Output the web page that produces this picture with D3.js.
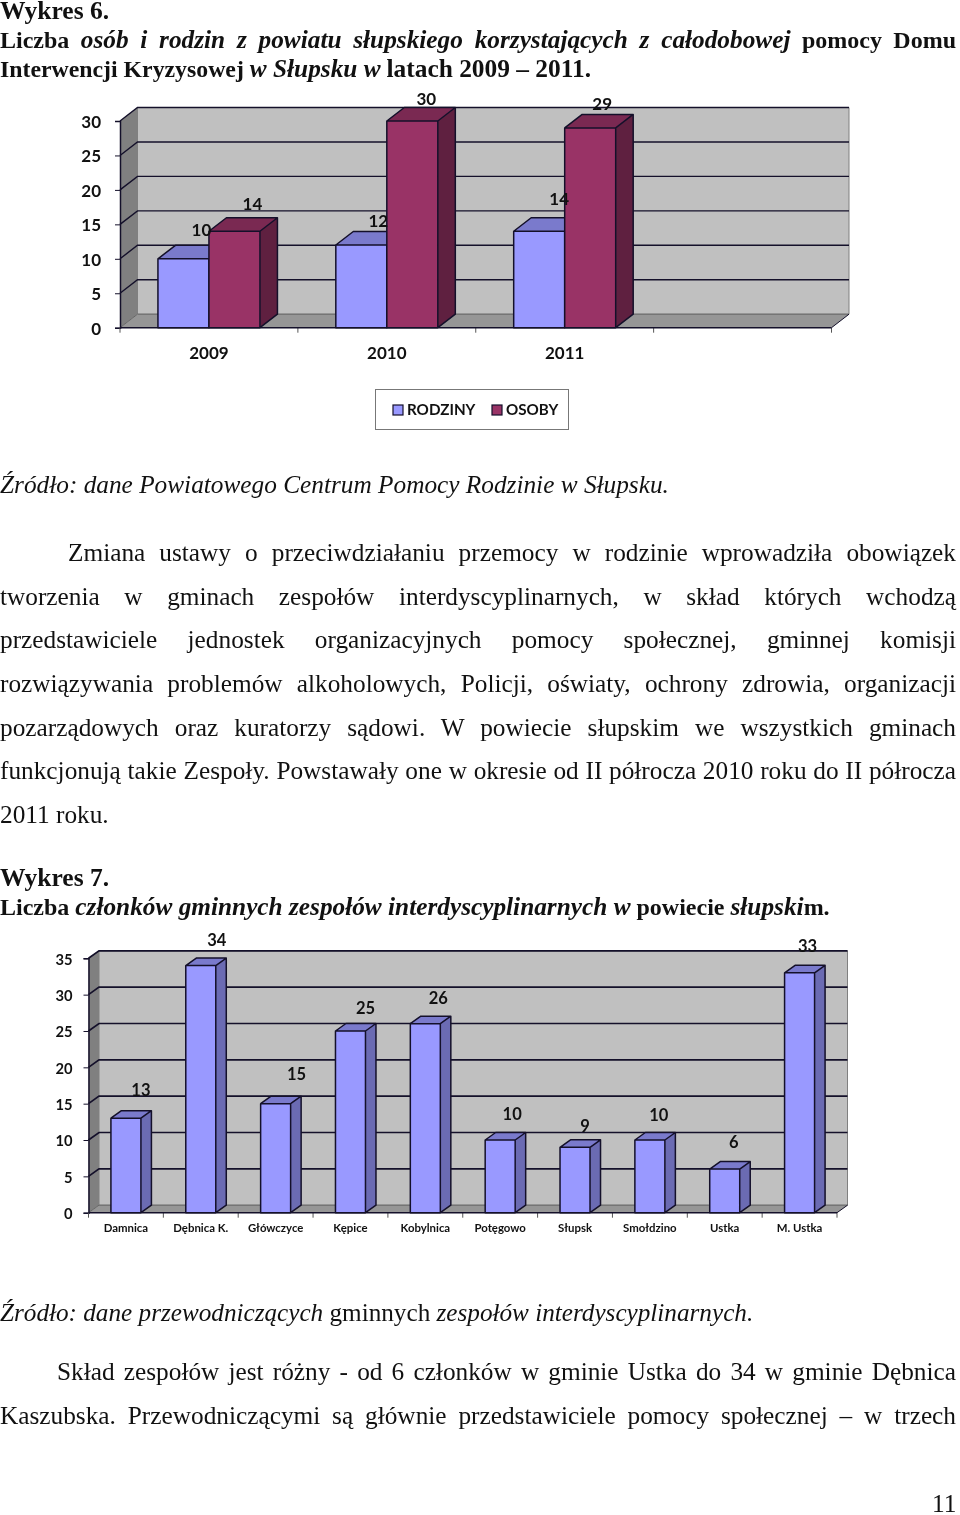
<!DOCTYPE html>
<html lang="pl"><head><meta charset="utf-8">
<script src="https://cdnjs.cloudflare.com/ajax/libs/d3/7.8.5/d3.min.js"></script>
<style>
html,body{margin:0;padding:0;background:#fff;width:960px;height:1515px;overflow:hidden}
#page{position:relative;width:960px;height:1515px;font-family:"Liberation Serif",serif;color:#111;filter:blur(0.3px)}
.ln{position:absolute;left:0;width:956px;white-space:nowrap;line-height:22px;height:22px}
.j{white-space:normal;text-align:justify;text-align-last:justify}
.ln i.w{font-size:25.3px}
.ln span.w{font-size:25.4px}
svg{position:absolute;left:0;top:0}
svg text{font-family:Lato,Carlito,sans-serif;font-weight:700;fill:#111}
</style></head><body><div id="page"><svg id="c" width="960" height="1515"></svg></div>
<script>
// ---- chart 6 data
const years = ["2009","2010","2011",""];
const seriesNames6 = ["RODZINY","OSOBY"];
const rodziny = [10,12,14];
const osoby = [14,30,29];
const ticks6 = [0,5,10,15,20,25,30];
// ---- chart 7 data
const gminy = ["Damnica","Dębnica K.","Główczyce","Kępice","Kobylnica","Potęgowo","Słupsk","Smołdzino","Ustka","M. Ustka"];
const czlonkowie = [13,34,15,25,26,10,9,10,6,33];
const ticks7 = [0,5,10,15,20,25,30,35];
// ---- hand placement of the data labels (the source moved them by hand)
const nudgeRodziny = [[18,29],[17,24],[20,32]];
const nudgeOsoby = [[18,27],[14,22],[12,24]];
const nudge7 = [[15,28],[16,25],[21,29],[15,23],[13,25],[12,26],[10,21],[9,25],[9,27],[8,27]];
// ---- text
const textLines = [
 {y:11,b:1,s:25.5,h:'Wykres 6.'},
 {y:39,b:1,j:1,s:24,h:'Liczba <i class="w">osób i rodzin z powiatu słupskiego korzystających z całodobowej</i> pomocy Domu'},
 {y:68,b:1,s:23.8,h:'Interwencji Kryzysowej <i class="w">w Słupsku w</i> <span class="w">latach 2009 – 2011.</span>'},
 {y:484,h:'<i>Źródło: dane Powiatowego Centrum Pomocy Rodzinie w Słupsku.</i>'},
 {y:552,x:68,j:1,h:'Zmiana ustawy o przeciwdziałaniu przemocy w rodzinie wprowadziła obowiązek'},
 {y:596,j:1,h:'tworzenia w gminach zespołów interdyscyplinarnych, w skład których wchodzą'},
 {y:639,j:1,h:'przedstawiciele jednostek organizacyjnych pomocy społecznej, gminnej komisji'},
 {y:683,j:1,h:'rozwiązywania problemów alkoholowych, Policji, oświaty, ochrony zdrowia, organizacji'},
 {y:727,j:1,h:'pozarządowych oraz kuratorzy sądowi. W powiecie słupskim we wszystkich gminach'},
 {y:770,j:1,h:'funkcjonują takie Zespoły. Powstawały one w okresie od II półrocza 2010 roku do II półrocza'},
 {y:814,h:'2011 roku.'},
 {y:878,b:1,s:25.5,h:'Wykres 7.'},
 {y:906,b:1,s:24,h:'Liczba <i class="w">członków gminnych zespołów interdyscyplinarnych w</i> powiecie <i class="w">słupski</i>m.'},
 {y:1313,s:25.2,h:'<i>Źródło: dane przewodniczących</i> gminnych <i>zespołów interdyscyplinarnych.</i>'},
 {y:1371,x:57,j:1,h:'Skład zespołów jest różny - od 6 członków w gminie Ustka do 34 w gminie Dębnica'},
 {y:1415,j:1,h:'Kaszubska. Przewodniczącymi są głównie przedstawiciele pomocy społecznej – w trzech'},
 {y:1503,x:932,h:'11'}
];
const page = d3.select("#page");
page.selectAll("div.ln").data(textLines).join("div")
 .attr("class",d=>"ln"+(d.j?" j":""))
 .style("top",d=>(d.y-11)+"px")
 .style("left",d=>(d.x||0)+"px")
 .style("width",d=>(956-(d.x||0))+"px")
 .style("font-weight",d=>d.b?"700":"400")
 .style("font-size",d=>(d.s||25.3)+"px")
 .html(d=>d.h);

const svg = d3.select("#c");
const INK="#14102a";

function chart(o){
 const g=svg.append("g");
 const y=d3.scaleLinear().domain(o.yDomain).range([o.y0,o.yTop]);
 const x=d3.scaleBand().domain(o.cats).range([o.x0,o.x1]);
 const dx=o.dx, dy=o.dy, topY=y(o.yDomain[1]);
 const P=a=>a.map(p=>p.join(",")).join(" ");
 // walls
 g.append("polygon").attr("points",P([[o.x0+dx,topY-dy],[o.x1+dx,topY-dy],[o.x1+dx,o.y0-dy],[o.x0+dx,o.y0-dy]])).attr("fill","#c0c0c0").attr("stroke","#808080");
 g.append("polygon").attr("points",P([[o.x0,topY],[o.x0+dx,topY-dy],[o.x0+dx,o.y0-dy],[o.x0,o.y0]])).attr("fill","#808080");
 g.append("polygon").attr("points",P([[o.x0,o.y0],[o.x0+dx,o.y0-dy],[o.x1+dx,o.y0-dy],[o.x1,o.y0]])).attr("fill","#969696");
 // gridlines
 g.selectAll("path.grid").data(o.ticks).join("path").attr("class","grid")
  .attr("fill","none").attr("stroke",t=>t===0?"#666":INK).attr("stroke-width",t=>t===0?1:o.gridW)
  .attr("d",t=>`M${o.x0},${y(t)}L${o.x0+dx},${y(t)-dy}L${o.x1+dx},${y(t)-dy}`);
 // bars
 o.series.forEach((s,si)=>{
  const bw=o.barW;
  const left=(i)=>x(o.cats[i])+x.bandwidth()/2+ (si-o.series.length/2)*bw;
  const b=g.append("g").selectAll("g").data(s.values).join("g");
  b.append("polygon").attr("points",(v,i)=>{const l=left(i),t=y(v);return P([[l,t],[l+dx,t-dy],[l+bw+dx,t-dy],[l+bw,t]]);}).attr("fill",s.top);
  b.append("polygon").attr("points",(v,i)=>{const l=left(i)+bw,t=y(v);return P([[l,t],[l+dx,t-dy],[l+dx,o.y0-dy],[l,o.y0]]);}).attr("fill",s.side);
  b.append("rect").attr("x",(v,i)=>left(i)).attr("y",v=>y(v)).attr("width",bw).attr("height",v=>o.y0-y(v)).attr("fill",s.front);
  b.append("path").attr("fill","none").attr("stroke",INK).attr("stroke-width",o.barLine).attr("stroke-linejoin","round")
   .attr("d",(v,i)=>{const l=left(i),t=y(v),r=l+bw;return `M${l},${o.y0}V${t}H${r}V${o.y0}Z M${l},${t}L${l+dx},${t-dy}H${r+dx}L${r},${t} M${r+dx},${t-dy}V${o.y0-dy}L${r},${o.y0}`;});
 });
 // axes
 const ay=g.append("g").attr("transform",`translate(${o.x0},0)`)
  .call(d3.axisLeft(y).tickValues(o.ticks).tickSize(o.tick).tickPadding(o.pad).tickFormat(d3.format("d")));
 ay.select(".domain").attr("stroke",INK).attr("stroke-width",1.5);
 ay.selectAll("line").attr("stroke",INK);
 ay.selectAll("text").attr("font-size",o.yFont).attr("font-family",null).attr("y",1);
 const ax=g.append("g").attr("transform",`translate(0,${o.y0})`)
  .call(d3.axisBottom(x).tickSize(0).tickPadding(o.catPad));
 ax.select(".domain").remove();
 ax.selectAll("text").attr("font-size",o.catFont).attr("font-family",null);
 const edges=o.cats.map(c=>x(c)).concat([o.x1]);
 g.selectAll("line.edge").data(edges).join("line").attr("class","edge")
  .attr("x1",d=>d).attr("x2",d=>d).attr("y1",o.y0).attr("y2",o.y0+5).attr("stroke","#555");
 g.append("line").attr("x1",o.x0).attr("x2",o.x1).attr("y1",o.y0).attr("y2",o.y0).attr("stroke",INK).attr("stroke-width",1.5);
 g.append("line").attr("x1",o.x1).attr("x2",o.x1+dx).attr("y1",o.y0).attr("y2",o.y0-dy).attr("stroke",INK);
 // data labels
 o.series.forEach((s,si)=>{
  const bw=o.barW;
  g.append("g").selectAll("text").data(s.values).join("text")
   .attr("text-anchor","middle").attr("font-size",o.labelFont).attr("dy","0.35em")
   .attr("x",(v,i)=>x(o.cats[i])+x.bandwidth()/2+(si-o.series.length/2+.5)*bw+s.nudge[i][0])
   .attr("y",(v,i)=>y(v)-s.nudge[i][1])
   .text(v=>v);
 });
}

chart({cats:years,x0:120,x1:831.5,y0:327.7,yTop:121,yDomain:[0,30],ticks:ticks6,dx:17.5,dy:13.5,barW:51,gridW:1.4,barLine:1.5,tick:5,pad:14,yFont:17,catFont:17,catPad:19,labelFont:17,
 series:[{values:rodziny,front:"#9999ff",top:"#7a7acc",side:"#6b6bb3",nudge:nudgeRodziny},
         {values:osoby,front:"#993366",top:"#7a2952",side:"#5f2040",nudge:nudgeOsoby}]});
chart({cats:gminy,x0:88.5,x1:837,y0:1212.7,yTop:958.3,yDomain:[0,35],ticks:ticks7,dx:10.5,dy:7.5,barW:30,gridW:1.7,barLine:1.5,tick:5,pad:11,yFont:14.7,catFont:11.4,catPad:11.5,labelFont:16.5,
 series:[{values:czlonkowie,front:"#9999ff",top:"#7a7acc",side:"#6b6bb3",nudge:nudge7}]});

// legend
const lg=svg.append("g");
lg.append("rect").attr("x",375.5).attr("y",389.5).attr("width",193).attr("height",40).attr("fill","#fff").attr("stroke","#777");
const lx=[393,492], colors=["#9999ff","#993366"];
seriesNames6.forEach((n,i)=>{
 lg.append("rect").attr("x",lx[i]).attr("y",405).attr("width",10).attr("height",10).attr("fill",colors[i]).attr("stroke",INK).attr("stroke-width",1.2);
 lg.append("text").attr("x",lx[i]+14).attr("y",415).attr("font-size",15.2).text(n);
});
</script></body></html>
